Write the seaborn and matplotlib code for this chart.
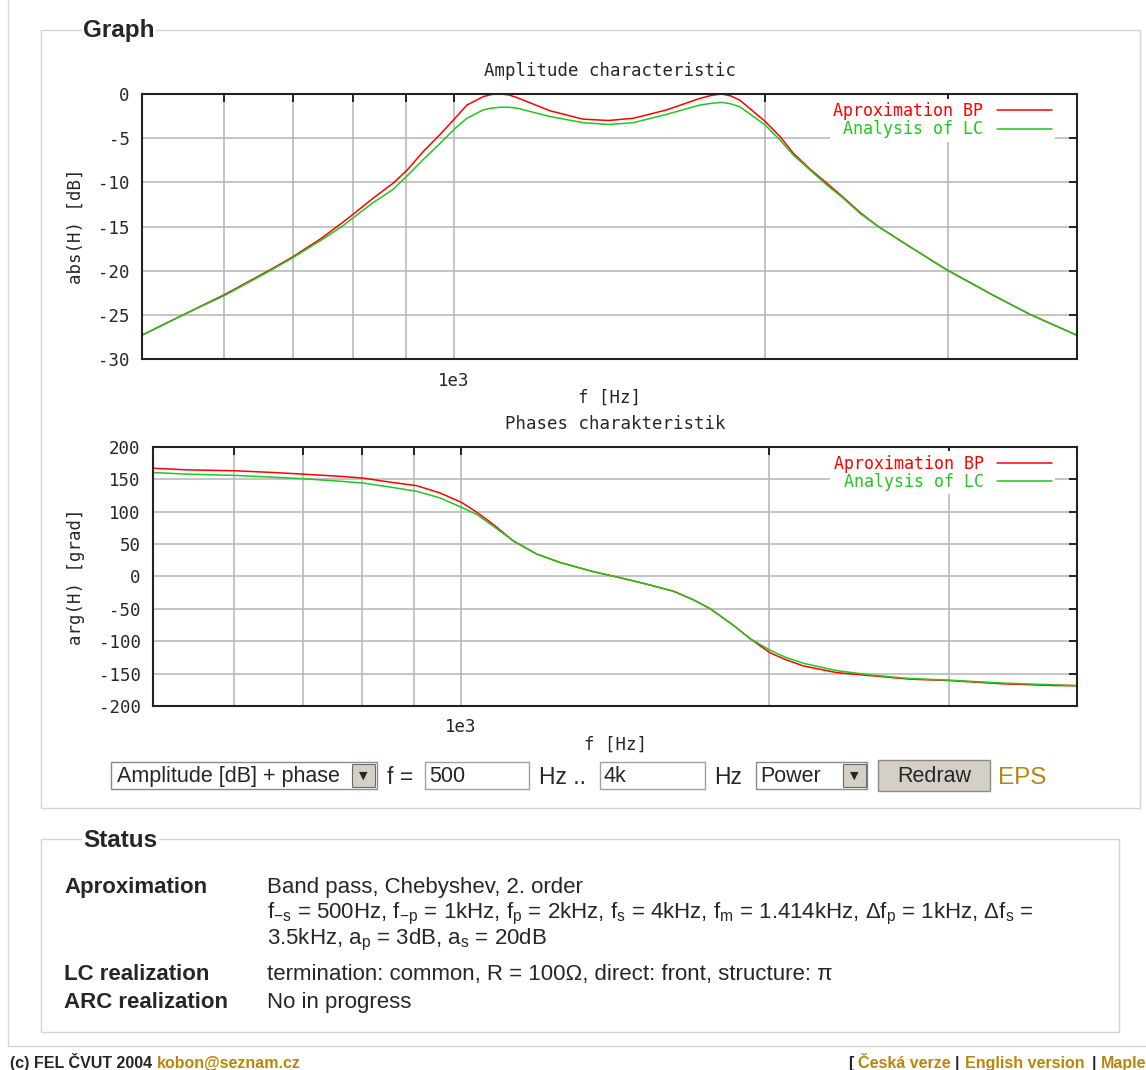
import numpy as np
import pandas as pd
import matplotlib
matplotlib.use('Agg')
import matplotlib.pyplot as plt
from matplotlib.patches import Rectangle
from matplotlib.lines import Line2D
from matplotlib.ticker import NullLocator
import seaborn as sns

# ---- data ----
series_names = ['Aproximation BP', 'Analysis of LC']

freq_amp = [500, 548, 601, 665, 700, 746, 782, 802, 836, 874, 902, 935, 970, 1003, 1030,
            1068, 1088, 1109, 1130, 1151, 1239, 1334, 1411, 1491, 1606, 1729, 1775, 1815,
            1850, 1890, 1999, 2066, 2128, 2209, 2293, 2379, 2468, 2571, 2759, 2994, 3322,
            3603, 3997]
amp_bp = [-27.3, -25.0, -22.7, -19.9, -18.4, -16.3, -14.5, -13.5, -11.8, -10.1, -8.6, -6.5,
          -4.6, -2.75, -1.25, -0.3, -0.05, 0.0, -0.1, -0.4, -1.9, -2.85, -3.0, -2.75, -1.8,
          -0.5, -0.15, 0.0, -0.2, -0.7, -3.1, -4.8, -6.7, -8.5, -10.1, -11.7, -13.4, -15.0,
          -17.3, -19.9, -22.8, -24.95, -27.3]
amp_lc = [-27.3, -25.0, -22.8, -20.0, -18.5, -16.5, -14.9, -13.9, -12.3, -10.8, -9.25, -7.4,
          -5.6, -3.9, -2.75, -1.8, -1.6, -1.5, -1.5, -1.6, -2.55, -3.25, -3.45, -3.25, -2.3,
          -1.25, -1.05, -0.95, -1.1, -1.45, -3.5, -5.2, -6.9, -8.6, -10.3, -11.8, -13.5, -15.0,
          -17.3, -19.9, -22.8, -24.95, -27.3]

freq_ph = [500, 539, 601, 653, 701, 765, 803, 852, 905, 954, 1002, 1036, 1075, 1125, 1186,
           1250, 1347, 1425, 1507, 1613, 1687, 1752, 1846, 1916, 2005, 2081, 2161, 2329,
           2510, 2747, 2999, 3390, 3792, 3997]
ph_bp = [166.8, 164.3, 162.9, 160.3, 157.7, 154.1, 151.5, 145.4, 139.9, 128.6, 113.8, 99.0,
         80.2, 54.6, 34.3, 21.4, 7.2, -1.5, -10.7, -22.9, -36.2, -49.9, -75.5, -95.9, -118.0,
         -129.0, -138.2, -148.5, -153.1, -158.6, -160.7, -165.8, -168.4, -168.8]
ph_lc = [160.2, 157.7, 155.7, 153.1, 150.6, 146.5, 143.9, 137.8, 131.2, 121.0, 106.2, 95.5,
         77.6, 54.6, 34.3, 21.4, 7.2, -1.5, -10.7, -22.9, -36.2, -49.9, -75.5, -95.9, -114.0,
         -125.5, -134.1, -145.4, -152.0, -157.7, -160.1, -164.7, -167.3, -168.4]

grid_freq = [600, 700, 800, 900, 1000, 2000, 3000]
grid_labels = ['', '', '', '', '1e3', '', '']
amp_ticks = [-30, -25, -20, -15, -10, -5, 0]
ph_ticks = [-200, -150, -100, -50, 0, 50, 100, 150, 200]

RED = '#ff0000'
GREEN = '#1ec81e'
GOLD = '#b8860b'
MONO = 'DejaVu Sans Mono'
SANS = 'Liberation Sans'
GP = 12.5  # gnuplot text size

sns.set_style('white')
plt.rcParams['font.family'] = [MONO, 'DejaVu Sans']
plt.rcParams['axes.unicode_minus'] = False
plt.rcParams['mathtext.fontset'] = 'custom'
plt.rcParams['mathtext.rm'] = SANS
plt.rcParams['mathtext.it'] = SANS

W, H = 1146, 1070
fig = plt.figure(figsize=(W / 100, H / 100), dpi=100)


def fx(x):
    return x / W


def fy(y):
    return 1 - y / H


def box(x0, y0, x1, y1, **kw):
    fig.add_artist(Rectangle((fx(x0), fy(y1)), (x1 - x0) / W, (y1 - y0) / H,
                             transform=fig.transFigure, **kw))


def label(x, y, s, **kw):
    kw.setdefault('family', SANS)
    kw.setdefault('va', 'baseline')
    return fig.text(fx(x), fy(y), s, **kw)


def long_df(freq, a, b):
    return pd.DataFrame({
        'f': list(freq) * 2,
        'value': list(a) + list(b),
        'series': [series_names[0]] * len(freq) + [series_names[1]] * len(freq),
    })


def style_axes(ax, df, yticks, title, ylabel, px_h):
    sns.lineplot(data=df, x='f', y='value', hue='series', palette=[RED, GREEN],
                 ax=ax, legend=False, linewidth=1.1, estimator=None)
    ax.set_xscale('log')
    ax.set_xlim(500, 4000)
    ax.set_ylim(yticks[0], yticks[-1])
    ax.set_xticks(grid_freq, labels=grid_labels)
    ax.xaxis.set_minor_locator(NullLocator())
    ax.set_yticks(yticks, labels=[str(v) for v in yticks])
    ax.set_axisbelow(True)
    ax.grid(True, color='#b4b4b4', linewidth=1.1)
    ax.tick_params(direction='in', top=True, right=True, length=5.8, width=1.4,
                   color='#222222', labelsize=GP, pad=9)
    for sp in ax.spines.values():
        sp.set_linewidth(1.5)
        sp.set_color('#222222')
    ax.set_title(title, fontsize=GP, va='center', y=1 + 23 / px_h, pad=0)
    ax.set_xlabel('f [Hz]', fontsize=GP, va='center')
    ax.xaxis.set_label_coords(0.5, -38.5 / px_h)
    ax.set_ylabel(ylabel, fontsize=GP, va='center')
    handles = [Line2D([], [], color=c, lw=1.1) for c in (RED, GREEN)]
    leg = ax.legend(handles, series_names, loc='upper right', markerfirst=False,
                    bbox_to_anchor=(0.9765, 0.982), borderaxespad=0, borderpad=0.2,
                    handlelength=3.3, handletextpad=0.8, labelspacing=0.02,
                    labelcolor='linecolor', prop={'family': MONO, 'size': 12},
                    frameon=True, facecolor='white', edgecolor='none', framealpha=1,
                    fancybox=False)
    return leg


# page decorations
fig.add_artist(Line2D([fx(8), fx(8)], [fy(0), fy(1046)], color='#d8d8d8', lw=1,
                      transform=fig.transFigure))
fig.add_artist(Line2D([fx(8), fx(1146)], [fy(1046), fy(1046)], color='#d8d8d8', lw=1,
                      transform=fig.transFigure))
box(41, 30, 1140, 808, facecolor='none', edgecolor='#d4d4d4', lw=1)
box(41, 839, 1119, 1032, facecolor='none', edgecolor='#d4d4d4', lw=1)
label(83, 37, 'Graph', fontsize=17.5, weight='bold',
      bbox=dict(facecolor='white', edgecolor='none', pad=1))
label(83, 847, 'Status', fontsize=17.5, weight='bold',
      bbox=dict(facecolor='white', edgecolor='none', pad=1))

# charts
ax1 = fig.add_axes([fx(142), fy(359), 935 / W, 265 / H])
style_axes(ax1, long_df(freq_amp, amp_bp, amp_lc), amp_ticks,
           'Amplitude characteristic', 'abs(H) [dB]', 265)
ax1.yaxis.set_label_coords((76 - 142) / 935, 0.5)

ax2 = fig.add_axes([fx(153), fy(706), 924 / W, 259.3 / H])
style_axes(ax2, long_df(freq_ph, ph_bp, ph_lc), ph_ticks,
           'Phases charakteristik', 'arg(H) [grad]', 259.3)
ax2.yaxis.set_label_coords((76 - 153) / 924, 0.5)

# form controls
form_size = 15.5
box(111, 762, 377, 789, facecolor='white', edgecolor='#8a8a8a', lw=1)
box(352, 764, 375, 787, facecolor='#d4d0c8', edgecolor='#6a6a6a', lw=0.8)
label(363.5, 776, '▼', family='DejaVu Sans', fontsize=8, ha='center', va='center')
label(117, 782, 'Amplitude [dB] + phase', fontsize=form_size)
label(387, 784, 'f =', fontsize=form_size + 1)
box(425, 762, 529, 789, facecolor='white', edgecolor='#a0a0a0', lw=1)
label(429, 782, '500', fontsize=form_size)
label(539, 784, 'Hz ..', fontsize=form_size + 1)
box(600, 762, 705, 789, facecolor='white', edgecolor='#a0a0a0', lw=1)
label(603, 782, '4k', fontsize=form_size)
label(714, 784, 'Hz', fontsize=form_size + 1)
box(756, 762, 867, 789, facecolor='white', edgecolor='#8a8a8a', lw=1)
box(843, 764, 866, 787, facecolor='#d4d0c8', edgecolor='#6a6a6a', lw=0.8)
label(854.5, 776, '▼', family='DejaVu Sans', fontsize=8, ha='center', va='center')
label(760, 782, 'Power', fontsize=form_size)
box(878, 760, 990, 791, facecolor='#d4d0c8', edgecolor='#8a8a8a', lw=1)
label(934, 782, 'Redraw', fontsize=form_size, ha='center')
label(998, 784, 'EPS', fontsize=17.5, color=GOLD)

# status block
st = 16
label(64, 893, 'Aproximation', fontsize=st, weight='bold')
label(64, 980, 'LC realization', fontsize=st, weight='bold')
label(64, 1008, 'ARC realization', fontsize=st, weight='bold')
label(267, 893, 'Band pass, Chebyshev, 2. order', fontsize=st)
label(267, 918, r'f$_{\mathrm{-s}}$ = 500Hz, f$_{\mathrm{-p}}$ = 1kHz, f$_{\mathrm{p}}$ = 2kHz, '
                r'f$_{\mathrm{s}}$ = 4kHz, f$_{\mathrm{m}}$ = 1.414kHz, Δf$_{\mathrm{p}}$ = 1kHz, '
                r'Δf$_{\mathrm{s}}$ =', fontsize=st)
label(267, 944, r'3.5kHz, a$_{\mathrm{p}}$ = 3dB, a$_{\mathrm{s}}$ = 20dB', fontsize=st)
label(267, 980, 'termination: common, R = 100Ω, direct: front, structure: π', fontsize=st)
label(267, 1008, 'No in progress', fontsize=st)

# footer
ft = 11.5
label(10, 1068, '(c) FEL ČVUT 2004', fontsize=ft, weight='bold')
label(157, 1068, 'kobon@seznam.cz', fontsize=ft, weight='bold', color=GOLD)
label(848, 1068, '[', fontsize=ft, weight='bold')
label(858, 1068, 'Česká verze', fontsize=ft, weight='bold', color=GOLD)
label(955, 1068, '|', fontsize=ft, weight='bold')
label(965, 1068, 'English version', fontsize=ft, weight='bold', color=GOLD)
label(1092, 1068, '|', fontsize=ft, weight='bold')
label(1101, 1068, 'Maple', fontsize=ft, weight='bold', color=GOLD)

fig.savefig('out.png', dpi=100, facecolor='white')
